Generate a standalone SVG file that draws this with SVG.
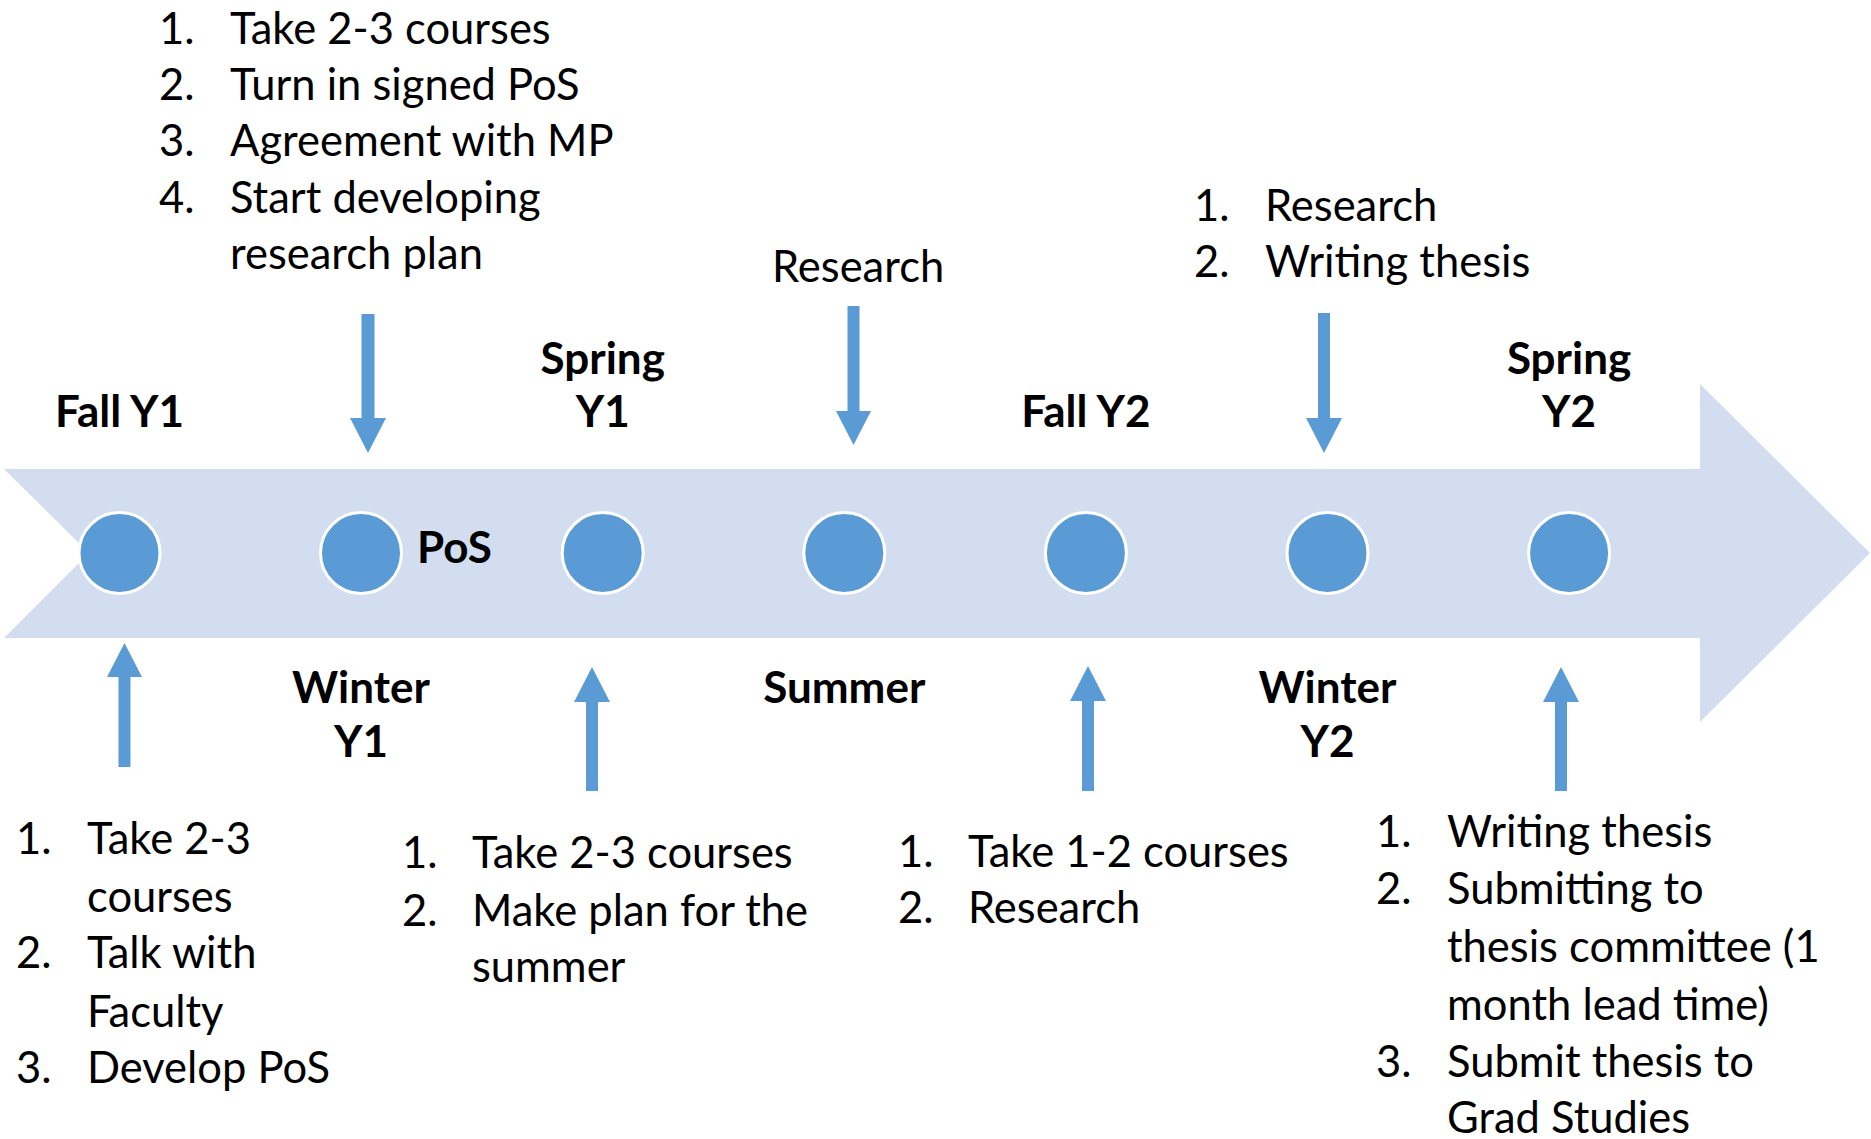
<svg xmlns="http://www.w3.org/2000/svg" width="1871" height="1139" viewBox="0 0 1871 1139">
<style>
.t{font-family:Lato,"Open Sans","Liberation Sans",sans-serif;font-size:43.5px;fill:#000}
.b{font-family:Lato,"Open Sans","Liberation Sans",sans-serif;font-size:44px;font-weight:bold;fill:#000;text-anchor:middle}
.dot{fill:#5B9BD5;stroke:#fff;stroke-width:3}
.arr{fill:#5B9BD5}
</style>
<rect width="1871" height="1139" fill="#fff"/>
<g id="timeline">
<polygon points="4,469 1700,469 1700,384 1870,553 1700,722 1700,638 4,638 89,553" fill="#D2DEEF"/>
</g>
<g id="fall-y1">
<circle class="dot" cx="119.5" cy="553" r="40.5"/>
<text class="b" x="119.5" y="427">Fall Y1</text>
</g>
<g id="winter-y1">
<circle class="dot" cx="361" cy="553" r="40.5"/>
<text class="b" x="417" y="563" style="text-anchor:start">PoS</text>
<text class="b" x="361" y="703">Winter</text>
<text class="b" x="361" y="757">Y1</text>
</g>
<g id="spring-y1">
<circle class="dot" cx="602.7" cy="553" r="40.5"/>
<text class="b" x="602.7" y="374">Spring</text>
<text class="b" x="602.7" y="427">Y1</text>
</g>
<g id="summer">
<circle class="dot" cx="844.3" cy="553" r="40.5"/>
<text class="b" x="844.3" y="703">Summer</text>
</g>
<g id="fall-y2">
<circle class="dot" cx="1085.9" cy="553" r="40.5"/>
<text class="b" x="1085.9" y="427">Fall Y2</text>
</g>
<g id="winter-y2">
<circle class="dot" cx="1327.5" cy="553" r="40.5"/>
<text class="b" x="1327.5" y="703">Winter</text>
<text class="b" x="1327.5" y="757">Y2</text>
</g>
<g id="spring-y2">
<circle class="dot" cx="1569.1" cy="553" r="40.5"/>
<text class="b" x="1569.1" y="374">Spring</text>
<text class="b" x="1569.1" y="427">Y2</text>
</g>
<g id="note-winter-y1">
<text class="t" x="159" y="44">1.</text><text class="t" x="230" y="44">Take 2-3 courses</text>
<text class="t" x="159" y="100">2.</text><text class="t" x="230" y="100">Turn in signed PoS</text>
<text class="t" x="159" y="156">3.</text><text class="t" x="230" y="156">Agreement with MP</text>
<text class="t" x="159" y="213">4.</text><text class="t" x="230" y="213">Start developing</text>
<text class="t" x="230" y="269">research plan</text>
</g>
<g id="note-summer">
<text class="t" x="772" y="282">Research</text>
</g>
<g id="note-winter-y2">
<text class="t" x="1194" y="221">1.</text><text class="t" x="1265" y="221">Research</text>
<text class="t" x="1194" y="277">2.</text><text class="t" x="1265" y="277">Writing thesis</text>
</g>
<g id="note-fall-y1">
<text class="t" x="16" y="854">1.</text><text class="t" x="87" y="854">Take 2-3</text>
<text class="t" x="87" y="912">courses</text>
<text class="t" x="16" y="968">2.</text><text class="t" x="87" y="968">Talk with</text>
<text class="t" x="87" y="1027">Faculty</text>
<text class="t" x="16" y="1083">3.</text><text class="t" x="87" y="1083">Develop PoS</text>
</g>
<g id="note-spring-y1">
<text class="t" x="402" y="868">1.</text><text class="t" x="472" y="868">Take 2-3 courses</text>
<text class="t" x="402" y="926">2.</text><text class="t" x="472" y="926">Make plan for the</text>
<text class="t" x="472" y="982">summer</text>
</g>
<g id="note-fall-y2">
<text class="t" x="898" y="867">1.</text><text class="t" x="968" y="867">Take 1-2 courses</text>
<text class="t" x="898" y="923">2.</text><text class="t" x="968" y="923">Research</text>
</g>
<g id="note-spring-y2">
<text class="t" x="1376" y="847">1.</text><text class="t" x="1447" y="847">Writing thesis</text>
<text class="t" x="1376" y="904">2.</text><text class="t" x="1447" y="904">Submitting to</text>
<text class="t" x="1447" y="962">thesis committee (1</text>
<text class="t" x="1447" y="1020">month lead time)</text>
<text class="t" x="1376" y="1077">3.</text><text class="t" x="1447" y="1077">Submit thesis to</text>
<text class="t" x="1447" y="1133">Grad Studies</text>
</g>
<g id="connectors">
<polygon class="arr" points="361.5,314 374.5,314 374.5,418 386,418 368,453 350,418 361.5,418"/>
<polygon class="arr" points="847.5,306 859.5,306 859.5,411 871,411 853.5,445 836,411 847.5,411"/>
<polygon class="arr" points="1318,313 1330,313 1330,418 1342,418 1324,453 1306,418 1318,418"/>
<polygon class="arr" points="118.5,767 130.5,767 130.5,677 142,677 124.5,643 107,677 118.5,677"/>
<polygon class="arr" points="586,791 598,791 598,702 610,702 592,667 574,702 586,702"/>
<polygon class="arr" points="1082,791 1094,791 1094,701 1106,701 1088,666 1070,701 1082,701"/>
<polygon class="arr" points="1555,791 1567,791 1567,702 1579,702 1561,667 1543,702 1555,702"/>
</g>
</svg>
